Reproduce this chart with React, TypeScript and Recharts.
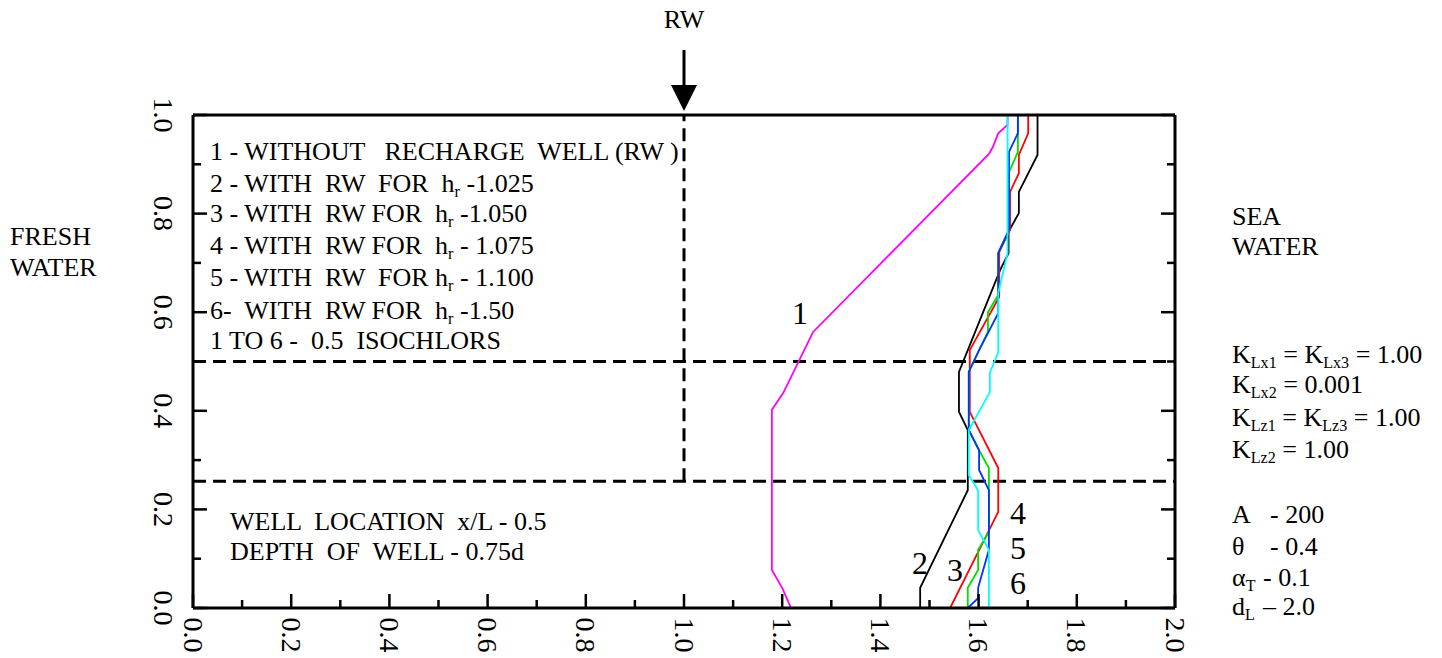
import React from 'react';
import { LineChart, Line, XAxis, YAxis, ReferenceLine } from 'recharts';

const FONT = '"Liberation Serif", "Times New Roman", Times, serif';

const xTicks = [0, 0.1, 0.2, 0.3, 0.4, 0.5, 0.6, 0.7, 0.8, 0.9, 1.0, 1.1, 1.2, 1.3, 1.4, 1.5, 1.6, 1.7, 1.8, 1.9, 2.0];
const yTicks = [0, 0.1, 0.2, 0.3, 0.4, 0.5, 0.6, 0.7, 0.8, 0.9, 1.0];

// 1 - without recharge well (magenta)
const curve1 = [
  { x: 1.659, y: 1.0 }, { x: 1.659, y: 0.98 }, { x: 1.64, y: 0.963 }, { x: 1.629, y: 0.935 },
  { x: 1.621, y: 0.921 }, { x: 1.263, y: 0.56 }, { x: 1.202, y: 0.436 }, { x: 1.179, y: 0.402 },
  { x: 1.179, y: 0.077 }, { x: 1.2, y: 0.041 }, { x: 1.218, y: 0.0 },
];
// 2 - hr 1.025 (black)
const curve2 = [
  { x: 1.72, y: 1.0 }, { x: 1.72, y: 0.919 }, { x: 1.682, y: 0.844 }, { x: 1.682, y: 0.801 },
  { x: 1.661, y: 0.763 }, { x: 1.661, y: 0.72 }, { x: 1.644, y: 0.686 }, { x: 1.578, y: 0.523 },
  { x: 1.56, y: 0.479 }, { x: 1.56, y: 0.398 }, { x: 1.578, y: 0.361 }, { x: 1.578, y: 0.239 },
  { x: 1.481, y: 0.041 }, { x: 1.481, y: 0.0 },
];
// 3 - hr 1.050 (red)
const curve3 = [
  { x: 1.701, y: 1.0 }, { x: 1.701, y: 0.963 }, { x: 1.682, y: 0.919 }, { x: 1.682, y: 0.882 },
  { x: 1.664, y: 0.844 }, { x: 1.664, y: 0.767 }, { x: 1.642, y: 0.722 }, { x: 1.642, y: 0.631 },
  { x: 1.582, y: 0.523 }, { x: 1.582, y: 0.398 }, { x: 1.64, y: 0.284 }, { x: 1.64, y: 0.195 },
  { x: 1.542, y: 0.0 },
];
// 4 - hr 1.075 (green)
const curve4 = [
  { x: 1.68, y: 1.0 }, { x: 1.68, y: 0.925 }, { x: 1.662, y: 0.884 }, { x: 1.662, y: 0.767 },
  { x: 1.64, y: 0.72 }, { x: 1.64, y: 0.635 }, { x: 1.619, y: 0.6 }, { x: 1.619, y: 0.56 },
  { x: 1.603, y: 0.527 }, { x: 1.58, y: 0.479 }, { x: 1.58, y: 0.361 }, { x: 1.601, y: 0.32 },
  { x: 1.621, y: 0.284 }, { x: 1.621, y: 0.154 }, { x: 1.599, y: 0.118 }, { x: 1.599, y: 0.077 },
  { x: 1.578, y: 0.041 }, { x: 1.578, y: 0.0 },
];
// 5 - hr 1.100 (blue)
const curve5 = [
  { x: 1.68, y: 1.0 }, { x: 1.68, y: 0.963 }, { x: 1.662, y: 0.925 }, { x: 1.662, y: 0.767 },
  { x: 1.64, y: 0.72 }, { x: 1.64, y: 0.598 }, { x: 1.603, y: 0.527 }, { x: 1.58, y: 0.479 },
  { x: 1.58, y: 0.361 }, { x: 1.601, y: 0.32 }, { x: 1.601, y: 0.28 }, { x: 1.621, y: 0.239 },
  { x: 1.621, y: 0.118 }, { x: 1.599, y: 0.041 }, { x: 1.599, y: 0.02 }, { x: 1.578, y: 0.0 },
];
// 6 - hr 1.50 (cyan)
const curve6 = [
  { x: 1.659, y: 1.0 }, { x: 1.659, y: 0.72 }, { x: 1.64, y: 0.639 }, { x: 1.64, y: 0.519 },
  { x: 1.623, y: 0.477 }, { x: 1.623, y: 0.438 }, { x: 1.58, y: 0.361 }, { x: 1.58, y: 0.27 },
  { x: 1.599, y: 0.239 }, { x: 1.599, y: 0.158 }, { x: 1.621, y: 0.118 }, { x: 1.621, y: 0.0 },
];

const series = [
  { name: '2', data: curve2, color: '#000000' },
  { name: '3', data: curve3, color: '#ff0000' },
  { name: '4', data: curve4, color: '#00e000' },
  { name: '5', data: curve5, color: '#0033ff' },
  { name: '1', data: curve1, color: '#ff00ff' },
  { name: '6', data: curve6, color: '#00ffff' },
];

const isMajor = (v: number) => Math.round(v * 10) % 2 === 0;

const BottomTick = (p: any) => {
  const { x, y, payload } = p;
  const v = payload.value;
  const m = isMajor(v);
  const ty = y + 27;
  return (
    <g>
      <line x1={x} x2={x} y1={y} y2={y - (m ? 14 : 8)} stroke="#000" strokeWidth={2.5} />
      {m && (
        <text x={x} y={ty} transform={`rotate(90 ${x} ${ty})`} textAnchor="middle" dominantBaseline="central"
          fontFamily={FONT} fontSize={28} fill="#000">{v.toFixed(1)}</text>
      )}
    </g>
  );
};
const TopTick = (p: any) => {
  const { x, y, payload } = p;
  const m = isMajor(payload.value);
  return <line x1={x} x2={x} y1={y} y2={y + (m ? 14 : 8)} stroke="#000" strokeWidth={2.5} />;
};
const LeftTick = (p: any) => {
  const { x, y, payload } = p;
  const v = payload.value;
  const m = isMajor(v);
  const tx = x - 30;
  return (
    <g>
      <line x1={x} x2={x + (m ? 14 : 8)} y1={y} y2={y} stroke="#000" strokeWidth={2.5} />
      {m && (
        <text x={tx} y={y} transform={`rotate(90 ${tx} ${y})`} textAnchor="middle" dominantBaseline="central"
          fontFamily={FONT} fontSize={28} fill="#000">{v.toFixed(1)}</text>
      )}
    </g>
  );
};
const RightTick = (p: any) => {
  const { x, y, payload } = p;
  const m = isMajor(payload.value);
  return <line x1={x} x2={x - (m ? 14 : 8)} y1={y} y2={y} stroke="#000" strokeWidth={2.5} />;
};

const T = (props: { x: number; y: number; size?: number; children: React.ReactNode; center?: boolean }) => {
  const size = props.size ?? 26;
  const lh = size * 1.2;
  return (
    <div style={{
      position: 'absolute', left: props.x, top: props.y - lh / 2, lineHeight: `${lh}px`, height: lh,
      fontSize: size, fontFamily: FONT, whiteSpace: 'pre', color: '#000',
      transform: props.center ? 'translateX(-50%)' : undefined,
    }}>{props.children}</div>
  );
};
const Sub = ({ children }: { children: React.ReactNode }) => (
  <span style={{ fontSize: '0.62em', verticalAlign: '-0.3em', lineHeight: 0 }}>{children}</span>
);

export default function App() {
  return (
    <div style={{ position: 'absolute', left: 0, top: 0, width: 1442, height: 658, background: '#fff', overflow: 'hidden' }}>
      <LineChart width={1442} height={658} margin={{ top: 105, right: 257, bottom: 10, left: 133 }}>
        <XAxis dataKey="x" type="number" domain={[0, 2]} ticks={xTicks} interval={0} height={40}
          tickSize={0} tickMargin={0} tick={<BottomTick />} axisLine={{ stroke: '#000', strokeWidth: 3 }} allowDataOverflow />
        <XAxis xAxisId="top" orientation="top" type="number" domain={[0, 2]} ticks={xTicks} interval={0} height={10}
          tickSize={0} tickMargin={0} tick={<TopTick />} axisLine={{ stroke: '#000', strokeWidth: 3 }} allowDataOverflow />
        <YAxis dataKey="y" type="number" domain={[0, 1]} ticks={yTicks} interval={0} width={60}
          tickSize={0} tickMargin={0} tick={<LeftTick />} axisLine={{ stroke: '#000', strokeWidth: 3 }} allowDataOverflow />
        <YAxis yAxisId="right" orientation="right" type="number" domain={[0, 1]} ticks={yTicks} interval={0} width={10}
          tickSize={0} tickMargin={0} tick={<RightTick />} axisLine={{ stroke: '#000', strokeWidth: 3 }} allowDataOverflow />
        <ReferenceLine y={0.5} stroke="#000" strokeWidth={3} strokeDasharray="13 7" />
        <ReferenceLine y={0.257} stroke="#000" strokeWidth={3} strokeDasharray="13 7" />
        <ReferenceLine segment={[{ x: 1, y: 0.257 }, { x: 1, y: 1 }]} stroke="#000" strokeWidth={3} strokeDasharray="13 7" />
        {series.map((s) => (
          <Line key={s.name} data={s.data} dataKey="y" type="linear" stroke={s.color} strokeWidth={1.8}
            dot={false} activeDot={false} isAnimationActive={false} />
        ))}
      </LineChart>

      {/* RW arrow */}
      <svg width={1442} height={120} style={{ position: 'absolute', left: 0, top: 0 }}>
        <line x1={684} x2={684} y1={50} y2={88} stroke="#000" strokeWidth={3} />
        <polygon points="671,85 697,85 684,111" fill="#000" />
      </svg>
      <T x={684} y={20} center>RW</T>

      <T x={10} y={237}>FRESH</T>
      <T x={10} y={268}>WATER</T>
      <T x={1232} y={217}>SEA</T>
      <T x={1232} y={247}>WATER</T>

      <T x={210} y={152}>{'1 - WITHOUT   RECHARGE  WELL (RW )'}</T>
      <T x={210} y={184}>{'2 - WITH  RW  FOR  h'}<Sub>r</Sub>{' -1.025'}</T>
      <T x={210} y={214}>{'3 - WITH  RW FOR  h'}<Sub>r</Sub>{' -1.050'}</T>
      <T x={210} y={246}>{'4 - WITH  RW FOR  h'}<Sub>r</Sub>{' - 1.075'}</T>
      <T x={210} y={278}>{'5 - WITH  RW  FOR h'}<Sub>r</Sub>{' - 1.100'}</T>
      <T x={210} y={311}>{'6-  WITH  RW FOR  h'}<Sub>r</Sub>{' -1.50'}</T>
      <T x={210} y={341}>{'1 TO 6 -  0.5  ISOCHLORS'}</T>

      <T x={230} y={522}>{'WELL  LOCATION  x/L - 0.5'}</T>
      <T x={230} y={552}>{'DEPTH  OF  WELL - 0.75d'}</T>

      <T x={1232} y={355}>K<Sub>Lx1</Sub>{' = K'}<Sub>Lx3</Sub>{' = 1.00'}</T>
      <T x={1232} y={385}>K<Sub>Lx2</Sub>{' = 0.001'}</T>
      <T x={1232} y={418}>K<Sub>Lz1</Sub>{' = K'}<Sub>Lz3</Sub>{' = 1.00'}</T>
      <T x={1232} y={450}>K<Sub>Lz2</Sub>{' = 1.00'}</T>

      <T x={1232} y={515}>A</T>
      <T x={1270} y={515}>- 200</T>
      <T x={1232} y={547}>θ</T>
      <T x={1270} y={547}>- 0.4</T>
      <T x={1232} y={578}>α<Sub>T</Sub></T>
      <T x={1263} y={578}>- 0.1</T>
      <T x={1232} y={607}>d<Sub>L</Sub></T>
      <T x={1263} y={607}>– 2.0</T>

      <T x={800} y={313} size={32} center>1</T>
      <T x={920} y={563} size={32} center>2</T>
      <T x={955} y={570} size={32} center>3</T>
      <T x={1018} y={513} size={32} center>4</T>
      <T x={1018} y={548} size={32} center>5</T>
      <T x={1018} y={583} size={32} center>6</T>
    </div>
  );
}
